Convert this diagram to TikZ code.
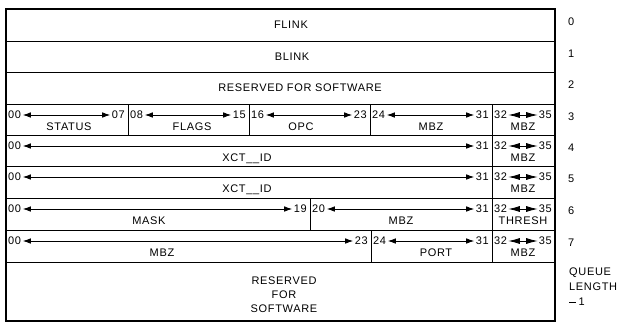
\documentclass[tikz,border=0pt]{standalone}
\usepackage{fontspec}
\setmainfont{Liberation Sans}[LetterSpace=6]
\usetikzlibrary{arrows.meta}
% #1 id, #2 x left, #3 x right, #4 y top, #5 start bit, #6 end bit, #7 name, #8 name x, #9 extra arrow style
\newcommand{\bitfield}[9]{%
  \node[num, anchor=west] (#1s) at (#2+2, #4+11) {#5};
  \node[num, anchor=east] (#1e) at (#3-3, #4+11) {#6};
  \draw[bitarrow, #9] (#1s.east) -- (#1e.west);
  \node[lbl] (#1n) at (#8, #4+23) {#7};
}
\begin{document}
\begin{tikzpicture}[
  x=1pt, y=-1pt,
  font=\fontsize{11}{13}\selectfont,
  txt/.style={inner sep=0pt, text height=7.6pt, text depth=0pt},
  num/.style={txt},
  lbl/.style={txt},
  bitarrow/.style={{Latex[length=8pt,width=5.5pt]}-{Latex[length=8pt,width=5.5pt]}, line width=0.8pt, shorten <=1.5pt, shorten >=1.5pt},
  tightarrow/.style={{Latex[length=11.5pt,width=6pt]}-{Latex[length=11.5pt,width=6pt]}, shorten <=1pt, shorten >=1pt},
  plainarrow/.style={},
  frame/.style={line width=1.2pt},
  rule/.style={line width=1pt},
]
\useasboundingbox (0,0) rectangle (617,324);

% frame and rules
\draw[frame] (6,9) rectangle (555,321);
\foreach \yy in {41,72,104,135,166,198,230,262}
  \draw[rule] (6,\yy) -- (555,\yy);
\foreach \xx in {128,249,370}
  \draw[rule] (\xx,104) -- (\xx,135);
\draw[rule] (492,104) -- (492,262);
\draw[rule] (310,198) -- (310,230);
\draw[rule] (371,230) -- (371,262);

% full-width rows
\node[lbl] (flink) at (291,25) {FLINK};
\node[lbl] (blink) at (292,57) {BLINK};
\node[lbl] (res1) at (300,88) {RESERVED FOR SOFTWARE};

% row 3
\bitfield{ra}{6}{128}{104}{00}{07}{STATUS}{69}{plainarrow}
\bitfield{rb}{128}{249}{104}{08}{15}{FLAGS}{192}{plainarrow}
\bitfield{rc}{249}{370}{104}{16}{23}{OPC}{301}{plainarrow}
\bitfield{rd}{370}{492}{104}{24}{31}{MBZ}{431}{plainarrow}
\bitfield{re}{492}{555}{104}{32}{35}{MBZ}{523}{tightarrow}
% row 4
\bitfield{rf}{6}{492}{135}{00}{31}{XCT\_\_ID}{247}{plainarrow}
\bitfield{rg}{492}{555}{135}{32}{35}{MBZ}{523}{tightarrow}
% row 5
\bitfield{rh}{6}{492}{166}{00}{31}{XCT\_\_ID}{247}{plainarrow}
\bitfield{ri}{492}{555}{166}{32}{35}{MBZ}{523}{tightarrow}
% row 6
\bitfield{rj}{6}{310}{198}{00}{19}{MASK}{149}{plainarrow}
\bitfield{rk}{310}{492}{198}{20}{31}{MBZ}{401}{plainarrow}
\bitfield{rl}{492}{555}{198}{32}{35}{THRESH}{523}{tightarrow}
% row 7
\bitfield{rm}{6}{371}{230}{00}{23}{MBZ}{162}{plainarrow}
\bitfield{rn}{371}{492}{230}{24}{31}{PORT}{436}{plainarrow}
\bitfield{ro}{492}{555}{230}{32}{35}{MBZ}{523}{tightarrow}

% last row
\node[lbl] (res2a) at (284,281) {RESERVED};
\node[lbl] (res2b) at (284,295) {FOR};
\node[lbl] (res2c) at (284,309) {SOFTWARE};

% longword numbers
\node[num, anchor=west] (n0) at (568,22) {0};
\node[num, anchor=west] (n1) at (568,54) {1};
\node[num, anchor=west] (n2) at (568,85) {2};
\node[num, anchor=west] (n3) at (568,117) {3};
\node[num, anchor=west] (n4) at (568,148) {4};
\node[num, anchor=west] (n5) at (568,179) {5};
\node[num, anchor=west] (n6) at (568,211) {6};
\node[num, anchor=west] (n7) at (568,243) {7};
\node[num, anchor=west] (q1) at (569,272) {QUEUE};
\node[num, anchor=west] (q2) at (569,287) {LENGTH};
\node[num, anchor=west] (q3) at (569,302) {\rule[2.8pt]{6.5pt}{0.7pt}\hspace{3pt}1};
\end{tikzpicture}
\end{document}
